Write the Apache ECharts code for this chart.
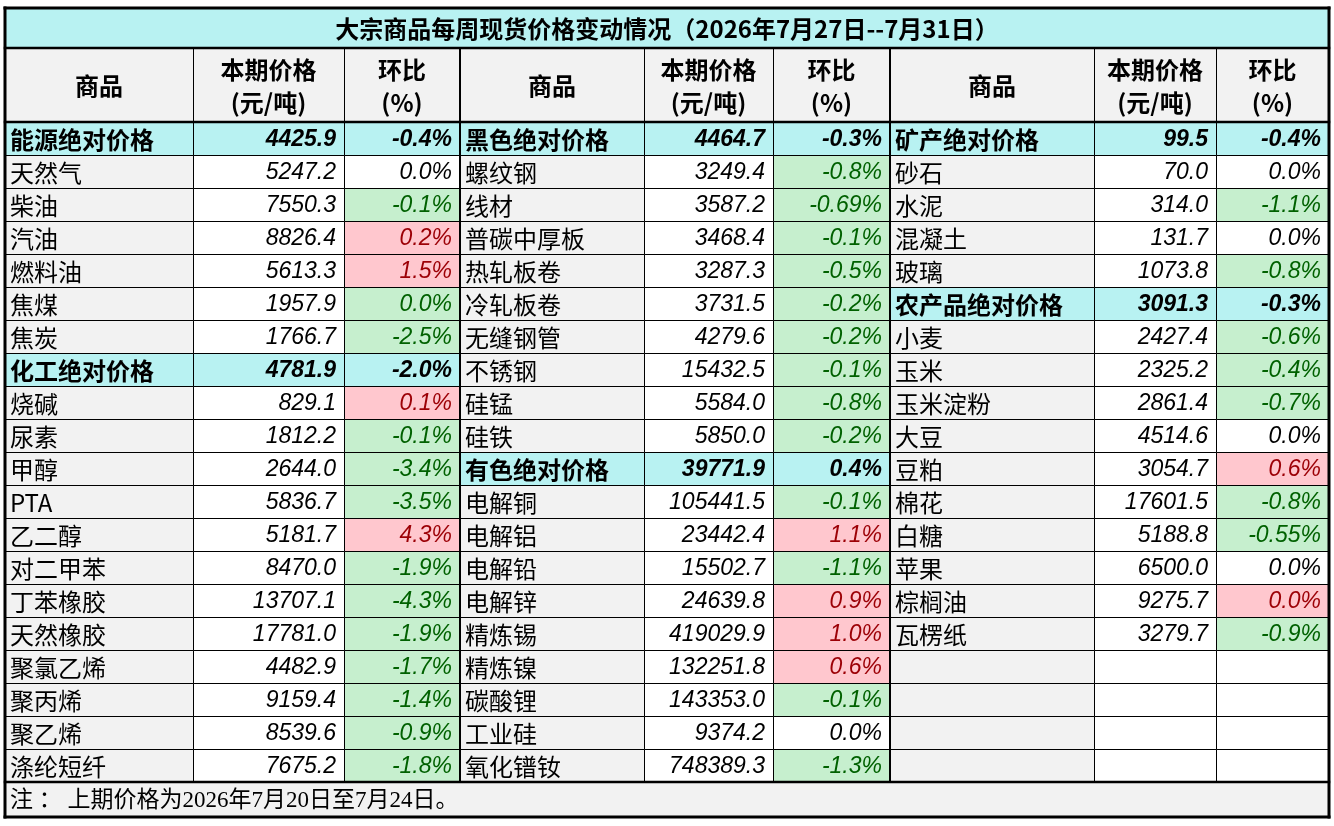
<!DOCTYPE html>
<html>
<head>
<meta charset="utf-8" />
<title>大宗商品每周现货价格变动情况</title>
<script src="https://cdn.jsdelivr.net/npm/echarts@6/dist/echarts.min.js"></script>
<style>html,body{margin:0;padding:0;background:#fff;}</style>
</head>
<body>
<div id="main" style="width:1334px;height:826px;"></div>
<script type="text/javascript">
var title = '大宗商品每周现货价格变动情况（2026年7月27日--7月31日）';
var headers = ['商品', '本期价格\n(元/吨)', '环比\n(%)'];
var footNote = '注 ： 上期价格为2026年7月20日至7月24日。';

// 左栏：能源 + 化工
var leftNames = ['能源绝对价格', '天然气', '柴油', '汽油', '燃料油', '焦煤', '焦炭',
  '化工绝对价格', '烧碱', '尿素', '甲醇', 'PTA', '乙二醇', '对二甲苯', '丁苯橡胶',
  '天然橡胶', '聚氯乙烯', '聚丙烯', '聚乙烯', '涤纶短纤'];
var leftPrices = [4425.9, 5247.2, 7550.3, 8826.4, 5613.3, 1957.9, 1766.7,
  4781.9, 829.1, 1812.2, 2644.0, 5836.7, 5181.7, 8470.0, 13707.1,
  17781.0, 4482.9, 9159.4, 8539.6, 7675.2];
var leftChanges = [-0.4, 0.0, -0.1, 0.2, 1.5, 0.0, -2.5,
  -2.0, 0.1, -0.1, -3.4, -3.5, 4.3, -1.9, -4.3,
  -1.9, -1.7, -1.4, -0.9, -1.8];
var leftMarks = ['', '', 'g', 'r', 'r', 'g', 'g',
  '', 'r', 'g', 'g', 'g', 'r', 'g', 'g',
  'g', 'g', 'g', 'g', 'g'];
var leftHeads = [0, 7];

// 中栏：黑色 + 有色
var midNames = ['黑色绝对价格', '螺纹钢', '线材', '普碳中厚板', '热轧板卷', '冷轧板卷',
  '无缝钢管', '不锈钢', '硅锰', '硅铁', '有色绝对价格', '电解铜', '电解铝', '电解铅',
  '电解锌', '精炼锡', '精炼镍', '碳酸锂', '工业硅', '氧化镨钕'];
var midPrices = [4464.7, 3249.4, 3587.2, 3468.4, 3287.3, 3731.5,
  4279.6, 15432.5, 5584.0, 5850.0, 39771.9, 105441.5, 23442.4, 15502.7,
  24639.8, 419029.9, 132251.8, 143353.0, 9374.2, 748389.3];
var midChanges = [-0.3, -0.8, -0.69, -0.1, -0.5, -0.2,
  -0.2, -0.1, -0.8, -0.2, 0.4, -0.1, 1.1, -1.1,
  0.9, 1.0, 0.6, -0.1, 0.0, -1.3];
var midMarks = ['', 'g', 'g', 'g', 'g', 'g',
  'g', 'g', 'g', 'g', '', 'g', 'r', 'g',
  'r', 'r', 'r', 'g', '', 'g'];
var midHeads = [0, 10];

// 右栏：矿产 + 农产品
var rightNames = ['矿产绝对价格', '砂石', '水泥', '混凝土', '玻璃', '农产品绝对价格',
  '小麦', '玉米', '玉米淀粉', '大豆', '豆粕', '棉花', '白糖', '苹果', '棕榈油', '瓦楞纸'];
var rightPrices = [99.5, 70.0, 314.0, 131.7, 1073.8, 3091.3,
  2427.4, 2325.2, 2861.4, 4514.6, 3054.7, 17601.5, 5188.8, 6500.0, 9275.7, 3279.7];
var rightChanges = [-0.4, 0.0, -1.1, 0.0, -0.8, -0.3,
  -0.6, -0.4, -0.7, 0.0, 0.6, -0.8, -0.55, 0.0, 0.0, -0.9];
var rightMarks = ['', '', 'g', '', 'g', '',
  'g', 'g', 'g', '', 'r', 'g', 'g', '', 'r', 'g'];
var rightHeads = [0, 5];

// layout
var colWidths = [188, 151, 116, 184, 129, 117, 204, 122, 113];
var rowHeights = [40, 74].concat(new Array(20).fill(33)).concat([35]);
var dataRows = 20;

var colEdges = [0];
colWidths.forEach(function (w, i) { colEdges.push(colEdges[i] + w); });
var rowEdges = [0];
rowHeights.forEach(function (h, i) { rowEdges.push(rowEdges[i] + h); });

var CYAN = '#b8f2f2';
var GRAY = '#f2f2f2';
var WHITE = '#ffffff';
var markStyle = {
  g: { bg: '#c6efce', color: '#006100' },
  r: { bg: '#ffc7ce', color: '#9c0006' },
  '': { bg: WHITE, color: '#000' }
};
var CJK = "'Noto Sans CJK SC', sans-serif";
var NUM = "'Liberation Sans', Arial, sans-serif";

function fmtPct(v) {
  var s = String(v);
  if (s.indexOf('.') < 0) s += '.0';
  return s + '%';
}

var cells = [];
function addCell(c0, r0, c1, r1, text, bg, opt) {
  opt = opt || {};
  cells.push({
    c0: c0, r0: r0, c1: c1, r1: r1, text: text, bg: bg,
    align: opt.align || 'center',
    color: opt.color || '#000',
    family: opt.family || CJK,
    size: opt.size || 24,
    weight: opt.weight || 'normal',
    italic: opt.italic || false,
    lineHeight: opt.lineHeight || 0
  });
}

addCell(0, 0, 9, 1, title, CYAN, { weight: 'bold', size: 24 });
for (var g = 0; g < 3; g++) {
  for (var h = 0; h < 3; h++) {
    addCell(g * 3 + h, 1, g * 3 + h + 1, 2, headers[h], GRAY,
      { weight: 'bold', size: 24, lineHeight: 33 });
  }
}

function addGroup(col, names, prices, changes, marks, heads) {
  for (var i = 0; i < dataRows; i++) {
    var r = i + 2;
    if (i >= names.length) {
      addCell(col, r, col + 1, r + 1, '', GRAY);
      addCell(col + 1, r, col + 2, r + 1, '', WHITE);
      addCell(col + 2, r, col + 3, r + 1, '', WHITE);
      continue;
    }
    var head = heads.indexOf(i) >= 0;
    var ms = markStyle[marks[i]];
    addCell(col, r, col + 1, r + 1, names[i], head ? CYAN : GRAY,
      { align: 'left', weight: head ? 'bold' : 'normal' });
    addCell(col + 1, r, col + 2, r + 1, prices[i].toFixed(1), head ? CYAN : WHITE,
      { align: 'right', family: NUM, size: 23, italic: true, weight: head ? 'bold' : 'normal' });
    addCell(col + 2, r, col + 3, r + 1, fmtPct(changes[i]), head ? CYAN : ms.bg,
      { align: 'right', family: NUM, size: 23, italic: true, weight: head ? 'bold' : 'normal',
        color: head ? '#000' : ms.color });
  }
}
addGroup(0, leftNames, leftPrices, leftChanges, leftMarks, leftHeads);
addGroup(3, midNames, midPrices, midChanges, midMarks, midHeads);
addGroup(6, rightNames, rightPrices, rightChanges, rightMarks, rightHeads);

addCell(0, 22, 9, 23, footNote, GRAY,
  { align: 'left', family: "'Liberation Serif', 'Noto Sans CJK SC', serif", size: 23 });

// heavy rules: [c0, r0, c1, r1, width]
var lastRow = rowEdges.length - 1;
var rules = [
  [0, 1, 9, 1, 2.5], [0, 2, 9, 2, 2.5], [0, 22, 9, 22, 2.5],
  [3, 1, 3, 22, 2], [6, 1, 6, 22, 2],
  [0, 0, 9, 0, 3], [0, lastRow, 9, lastRow, 3],
  [0, 0, 0, lastRow, 3], [9, 0, 9, lastRow, 3]
];

function renderCell(params, api) {
  var c = cells[params.dataIndex];
  var p0 = api.coord([colEdges[c.c0], rowEdges[c.r0]]);
  var p1 = api.coord([colEdges[c.c1], rowEdges[c.r1]]);
  var x0 = Math.round(p0[0]), y0 = Math.round(p0[1]);
  var x1 = Math.round(p1[0]), y1 = Math.round(p1[1]);
  var children = [{
    type: 'rect',
    shape: { x: x0 + 0.5, y: y0 + 0.5, width: x1 - x0, height: y1 - y0 },
    style: { fill: c.bg, stroke: '#000', lineWidth: 1 }
  }];
  if (c.text !== '') {
    var tx = c.align === 'left' ? x0 + 5 : (c.align === 'right' ? x1 - 8 : (x0 + x1) / 2);
    var st = {
      text: c.text, x: tx, y: (y0 + y1) / 2 + 1,
      align: c.align, verticalAlign: 'middle',
      fill: c.color, fontFamily: c.family, fontSize: c.size,
      fontWeight: c.weight, fontStyle: c.italic ? 'italic' : 'normal'
    };
    if (c.lineHeight) st.lineHeight = c.lineHeight;
    children.push({ type: 'text', style: st });
  }
  return { type: 'group', children: children };
}

function renderRule(params, api) {
  var r = rules[params.dataIndex];
  var p0 = api.coord([colEdges[r[0]], rowEdges[r[1]]]);
  var p1 = api.coord([colEdges[r[2]], rowEdges[r[3]]]);
  return {
    type: 'line',
    shape: { x1: Math.round(p0[0]), y1: Math.round(p0[1]), x2: Math.round(p1[0]), y2: Math.round(p1[1]) },
    style: { stroke: '#000', lineWidth: r[4], lineCap: 'square' }
  };
}

var myChart = echarts.init(document.getElementById('main'));
myChart.setOption({
  animation: false,
  backgroundColor: '#fff',
  grid: { left: 5, top: 8, width: 1324, height: 809 },
  xAxis: { type: 'value', min: 0, max: colEdges[colEdges.length - 1], show: false },
  yAxis: { type: 'value', min: 0, max: rowEdges[rowEdges.length - 1], inverse: true, show: false },
  series: [
    {
      type: 'custom',
      renderItem: renderCell,
      clip: false,
      silent: true,
      data: cells.map(function (c) { return [colEdges[c.c0], rowEdges[c.r0]]; })
    },
    {
      type: 'custom',
      renderItem: renderRule,
      clip: false,
      silent: true,
      data: rules.map(function (r) { return [colEdges[r[0]], rowEdges[r[1]]]; })
    }
  ]
});
</script>
</body>
</html>
